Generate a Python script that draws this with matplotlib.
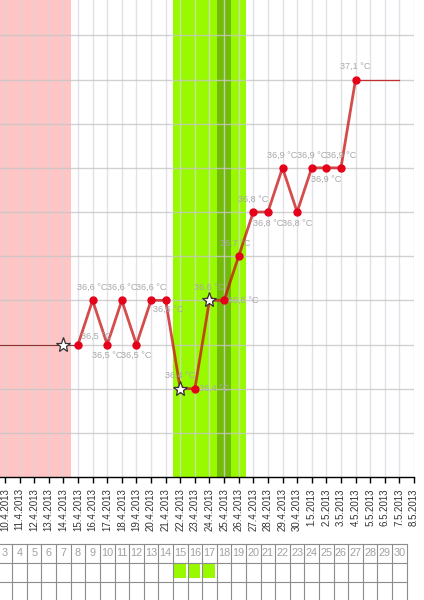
import matplotlib
matplotlib.use("Agg")
import matplotlib.pyplot as plt
from matplotlib.patches import Rectangle

# x positions are day indexes counted from 10.4.2013
date_labels = [
    "10.4.2013", "11.4.2013", "12.4.2013", "13.4.2013", "14.4.2013", "15.4.2013",
    "16.4.2013", "17.4.2013", "18.4.2013", "19.4.2013", "20.4.2013", "21.4.2013",
    "22.4.2013", "23.4.2013", "24.4.2013", "25.4.2013", "26.4.2013", "27.4.2013",
    "28.4.2013", "29.4.2013", "30.4.2013", "1.5.2013", "2.5.2013", "3.5.2013",
    "4.5.2013", "5.5.2013", "6.5.2013", "7.5.2013", "8.5.2013",
]
cycle_days = list(range(3, 31))

temp_days = [5, 6, 7, 8, 9, 10, 11, 12, 13, 14, 15, 16, 17, 18, 19, 20, 21, 22, 23, 24]
temps = [36.5, 36.6, 36.5, 36.6, 36.5, 36.6, 36.6, 36.4, 36.4, 36.6,
         36.6, 36.7, 36.8, 36.8, 36.9, 36.8, 36.9, 36.9, 36.9, 37.1]
label_pos = ["ur", "a", "b", "a", "b", "a", "rb", "a", "r", "a",
             "r", "al", "a", "b", "a", "b", "a", "b", "a", "a"]

star_days = [4, 12, 14]
star_temps = [36.5, 36.4, 36.6]

lead_days = [-0.34, 5]
lead_temps = [36.5, 36.5]
tail_days = [24, 27]
tail_temps = [37.1, 37.1]

period_span = (-0.34, 4.5)
fertile_span = (11.5, 16.5)
peak_span = (14.5, 15.5)
marked_cells = [12, 13, 14]

plt.rcParams['font.family'] = ['Liberation Sans', 'DejaVu Sans']

fig = plt.figure(figsize=(4.24, 6.0), dpi=100)
fig.patch.set_facecolor('white')
ax = fig.add_axes([0, 123 / 600, 414 / 424, 477 / 600])

xmin, xmax = -0.34, 28
ax.set_xlim(xmin, xmax)
ax.set_ylim(36.2, 37.28)

# background bands
ax.axvspan(*period_span, color='#ffc4c4', zorder=0, lw=0)
ax.axvspan(*fertile_span, color='#99fa00', zorder=0, lw=0)
ax.axvspan(*peak_span, color='#72bb08', zorder=0, lw=0)

# grid
for i in range(len(date_labels)):
    ax.axvline(i, color='#d8d8e2', lw=1, alpha=0.75, zorder=1)
for k in range(1, 11):
    ax.axhline(36.2 + k * 0.1, color='#c6c6c6', lw=1, alpha=0.8, zorder=1)

# thin connecting lines
ax.plot(lead_days, lead_temps, color='#8a3030', lw=0.8, zorder=2)
ax.plot(tail_days, tail_temps, color='#c03030', lw=0.9, zorder=2)

# main curve
ax.plot(temp_days, temps, color='#c81010', lw=2, alpha=0.75, zorder=3)
ax.plot(temp_days, temps, 'o', color='#e5001a', ms=5, zorder=4)
ax.plot(star_days, star_temps, '*', color='white', mec='#333333', mew=0.9, ms=11, zorder=5)

offsets = {
    "a": (0, 13, 'center'), "b": (0, -11, 'center'), "r": (4, 0, 'left'),
    "ur": (3, 8, 'left'), "rb": (3, -9, 'center'), "al": (-3, 13, 'center'),
}
for d, t, p in zip(temp_days, temps, label_pos):
    dx, dy, ha = offsets[p]
    ax.annotate(f"{t:.1f} °C".replace(".", ","), (d, t), xytext=(dx, dy),
                textcoords='offset pixels', ha=ha, va='center',
                fontsize=6.6, color='#a8a8a8', zorder=6)

ax.set_xticks(range(len(date_labels)))
ax.set_xticklabels(date_labels, rotation=90, fontsize=7, color='#333333')
ax.set_yticks([])
ax.tick_params(axis='x', length=4, width=1, color='black', pad=4)
for s in ['top', 'right', 'left']:
    ax.spines[s].set_visible(False)
ax.spines['bottom'].set_color('black')
ax.spines['bottom'].set_linewidth(1)

# cycle day table
tb = fig.add_axes([0, 0, 414 / 424, 57 / 600])
tb.set_xlim(xmin, xmax)
tb.set_ylim(0, 57)
tb.axis('off')
right = len(cycle_days) - 0.5
for y in [56.5, 37, 18]:
    tb.plot([xmin, right], [y, y], color='#8c8c8c', lw=0.8, clip_on=False)
for i in range(len(cycle_days)):
    tb.plot([i + 0.5, i + 0.5], [0, 56.5], color='#8c8c8c', lw=0.8)
    tb.text(i, 47, str(cycle_days[i]), ha='center', va='center', fontsize=7.8, color='#a0a0a0')
for i in marked_cells:
    tb.add_patch(Rectangle((i - 0.42, 22), 0.79, 14, color='#99fa00', lw=0))

fig.savefig("out.png", dpi=100, facecolor='white')
